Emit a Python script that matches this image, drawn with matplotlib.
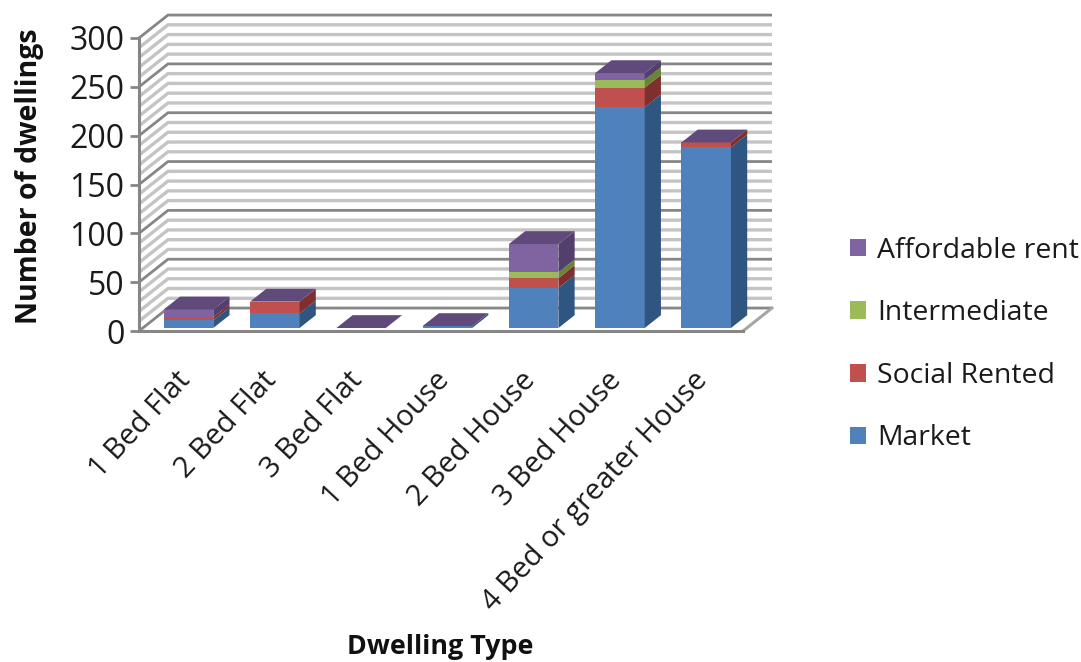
import matplotlib
matplotlib.use('Agg')
import matplotlib.pyplot as plt
from matplotlib.patches import Patch, Polygon
from matplotlib.transforms import ScaledTranslation
import numpy as np

categories = ['1 Bed Flat', '2 Bed Flat', '3 Bed Flat', '1 Bed House', '2 Bed House',
              '3 Bed House', '4 Bed or greater House']
market = [8, 15, 0, 2, 41, 226, 185]
social_rented = [3, 12, 0, 0, 10, 20, 5]
intermediate = [0, 0, 0, 0, 6, 8, 0]
affordable_rent = [8, 0, 0, 0, 29, 7, 0]

series_names = ['Market', 'Social Rented', 'Intermediate', 'Affordable rent']
front_colors = ['#4F81BD', '#C0504D', '#9BBB59', '#8064A2']
side_colors = ['#2F5581', '#7F2F2D', '#688535', '#533F6B']
top_color = '#604A7B'

# size of the oblique depth, in data units
DX = 29 / 86.3
DY = 23.5
BAR_W = 49.5 / 86.3


def shift(x, y, d):
    return (x + d * DX, y + d * DY)


plt.rcParams['font.family'] = ['Open Sans', 'DejaVu Sans']
fig = plt.figure(figsize=(10.81, 6.62), dpi=100)
ax = fig.add_axes([139 / 1081, (662 - 331) / 662, 604 / 1081, 293 / 662])
ax.set_xlim(0, 7)
ax.set_ylim(0, 300)
ax.patch.set_visible(False)

# walls
for v in np.arange(0, 301, 10):
    major = v % 50 == 0
    col = '#868686' if major else '#C4C4C4'
    lw = 2.0 if major else 2.4
    a = shift(0, v, 0)
    b = shift(0, v, 1)
    c = shift(7, v, 1)
    ax.plot([a[0], b[0], c[0]], [a[1], b[1], c[1]], color=col, lw=lw, clip_on=False,
            solid_capstyle='butt', solid_joinstyle='miter', zorder=1)
# floor edge on the right
r = shift(7, 0, 1)
ax.plot([7, r[0]], [0, r[1]], color='#A6A6A6', lw=2.2, clip_on=False, zorder=1)

# stacked 3d bars
stack = [market, social_rented, intermediate, affordable_rent]
z = 2
for i in range(len(categories)):
    x0 = i + 0.5 - BAR_W / 2 + 0.22 * DX
    x1 = x0 + BAR_W
    base = 0.13 * DY
    bottom = 0
    for values, fc, sc in zip(stack, front_colors, side_colors):
        h = values[i]
        if h == 0:
            continue
        y0, y1 = base + bottom, base + bottom + h
        ax.add_patch(Polygon([(x0, y0), (x1, y0), (x1, y1), (x0, y1)], fc=fc, ec='none',
                             clip_on=False, zorder=z))
        ax.add_patch(Polygon([(x1, y0), shift(x1, y0, 0.56), shift(x1, y1, 0.56), (x1, y1)],
                             fc=sc, ec='none', clip_on=False, zorder=z))
        bottom += h
    y1 = base + bottom
    ax.add_patch(Polygon([(x0, y1), (x1, y1), shift(x1, y1, 0.56), shift(x0, y1, 0.56)],
                         fc=top_color, ec='none', clip_on=False, zorder=z))

for s in ['top', 'right']:
    ax.spines[s].set_visible(False)
for s in ['left', 'bottom']:
    ax.spines[s].set_color('#868686')
    ax.spines[s].set_linewidth(2.2)
    ax.spines[s].set_zorder(3)

ax.set_yticks(np.arange(0, 301, 50))
ax.tick_params(axis='y', length=6.5, width=2, color='#868686', labelsize=23, pad=4,
               labelcolor='#1a1a1a')
ax.set_xticks(np.arange(7) + 0.5)
ax.set_xticklabels(categories, rotation=47, ha='right', rotation_mode='anchor', fontsize=21,
                   color='#1a1a1a')
ax.tick_params(axis='x', length=0, pad=25)
# labels sit a little left of the bar centres
nudge = ScaledTranslation(-7 / 100, 0, fig.dpi_scale_trans)
for lab in ax.get_xticklabels():
    lab.set_transform(lab.get_transform() + nudge)

fig.text(30 / 1081, 1 - 176 / 662, 'Number of dwellings', rotation=90, ha='center', va='center',
         fontsize=20.5, fontweight='bold', color='#111111')
fig.text(440 / 1081, 1 - 647 / 662, 'Dwelling Type', ha='center', va='center',
         fontsize=19.4, fontweight='bold', color='#111111')

handles = [Patch(fc=c, ec='none') for c in front_colors[::-1]]
fig.legend(handles, series_names[::-1], loc='upper left', bbox_to_anchor=(827 / 1081, 1 - 214 / 662),
           frameon=False, fontsize=20.4, labelcolor='#1a1a1a', handlelength=0.58, handleheight=0.58,
           handletextpad=0.4, labelspacing=1.22, borderpad=0.3)

fig.savefig('out.png', dpi=100)
